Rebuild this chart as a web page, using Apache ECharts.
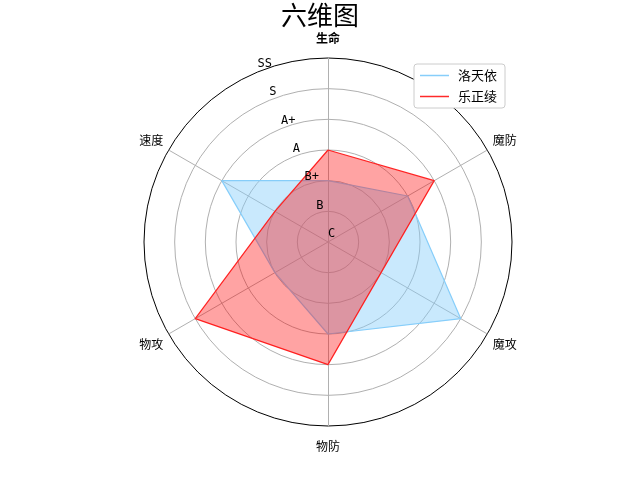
<!DOCTYPE html>
<html>
<head>
<meta charset="utf-8">
<script src="https://cdn.jsdelivr.net/npm/echarts@6/dist/echarts.min.js"></script>
<style>
html,body{margin:0;padding:0;background:#fff;}
#chart{width:640px;height:480px;}
</style>
</head>
<body>
<div id="chart"></div>
<script>
const categories = ['生命', '速度', '物攻', '物防', '魔攻', '魔防'];
const maxValue = 6;
const tickLabels = ['C', 'B', 'B+', 'A', 'A+', 'S', 'SS'];
const seriesNames = ['洛天依', '乐正绫'];
const luoTianyi = [2, 4, 2, 3, 5, 3];
const yueZhengling = [3, 2, 5, 4, 2, 4];

const cjk = '"Noto Sans CJK SC", sans-serif';
const mono = '"DejaVu Sans Mono", monospace';
const center = [328, 242];
const radius = 184;

const gridColors = tickLabels.map((t, i) => i === tickLabels.length - 1 ? '#000000' : '#b0b0b0');

const chart = echarts.init(document.getElementById('chart'));
chart.setOption({
  animation: false,
  backgroundColor: '#fff',
  title: {
    text: '六维图',
    left: 'center',
    top: -3,
    textStyle: { fontSize: 26, fontWeight: 'normal', color: '#000', fontFamily: cjk }
  },
  legend: {
    orient: 'vertical',
    left: 414,
    top: 64,
    data: seriesNames,
    icon: 'rect',
    itemWidth: 29,
    itemHeight: 1.5,
    itemGap: 8,
    padding: [5, 8, 5, 6],
    borderColor: '#cccccc',
    borderWidth: 1,
    borderRadius: 3,
    backgroundColor: '#fff',
    textStyle: { fontSize: 13, color: '#000', fontFamily: cjk, padding: [0, 0, 0, 4] }
  },
  radar: {
    center: center,
    radius: radius,
    startAngle: 90,
    shape: 'circle',
    splitNumber: maxValue,
    indicator: categories.map(n => ({ name: n, min: 0, max: maxValue })),
    nameGap: 20,
    axisName: {
      color: '#000',
      fontSize: 12,
      fontFamily: cjk,
      align: 'center',
      verticalAlign: 'middle',
      formatter: (name) => name === categories[0] ? '{b|' + name + '}' : name,
      rich: { b: { fontWeight: 'bold', fontSize: 12, fontFamily: cjk, color: '#000' } }
    },
    splitLine: {
      lineStyle: { color: gridColors, width: 1 }
    },
    splitArea: { show: false },
    axisLine: { lineStyle: { color: '#b0b0b0', width: 1 } },
    axisTick: { show: false },
    axisLabel: { show: false }
  },
  polar: { center: center, radius: radius },
  angleAxis: { type: 'value', min: 0, max: 360, startAngle: 112.5, show: false },
  radiusAxis: {
    type: 'value',
    z: 10,
    min: 0,
    max: maxValue,
    interval: 1,
    axisLine: { show: false },
    axisTick: { show: false },
    splitLine: { show: false },
    axisLabel: {
      formatter: (v) => tickLabels[v],
      margin: 0,
      align: 'left',
      verticalAlign: 'bottom',
      padding: [0, 0, 2, 0],
      fontSize: 12,
      color: '#000',
      fontFamily: mono,
      showMinLabel: true,
      showMaxLabel: true
    }
  },
  series: [
    {
      type: 'radar',
      name: seriesNames[0],
      symbol: 'none',
      z: 2,
      itemStyle: { color: '#87cefa' },
      lineStyle: { color: '#87cefa', width: 1.2, opacity: 1 },
      areaStyle: { color: '#87cefa', opacity: 0.45 },
      data: [{ name: seriesNames[0], value: luoTianyi }]
    },
    {
      type: 'radar',
      name: seriesNames[1],
      symbol: 'none',
      z: 3,
      itemStyle: { color: '#ff2a2a' },
      lineStyle: { color: '#ff2a2a', width: 1.2, opacity: 1 },
      areaStyle: { color: '#ff0000', opacity: 0.36 },
      data: [{ name: seriesNames[1], value: yueZhengling }]
    }
  ]
});
</script>
</body>
</html>
